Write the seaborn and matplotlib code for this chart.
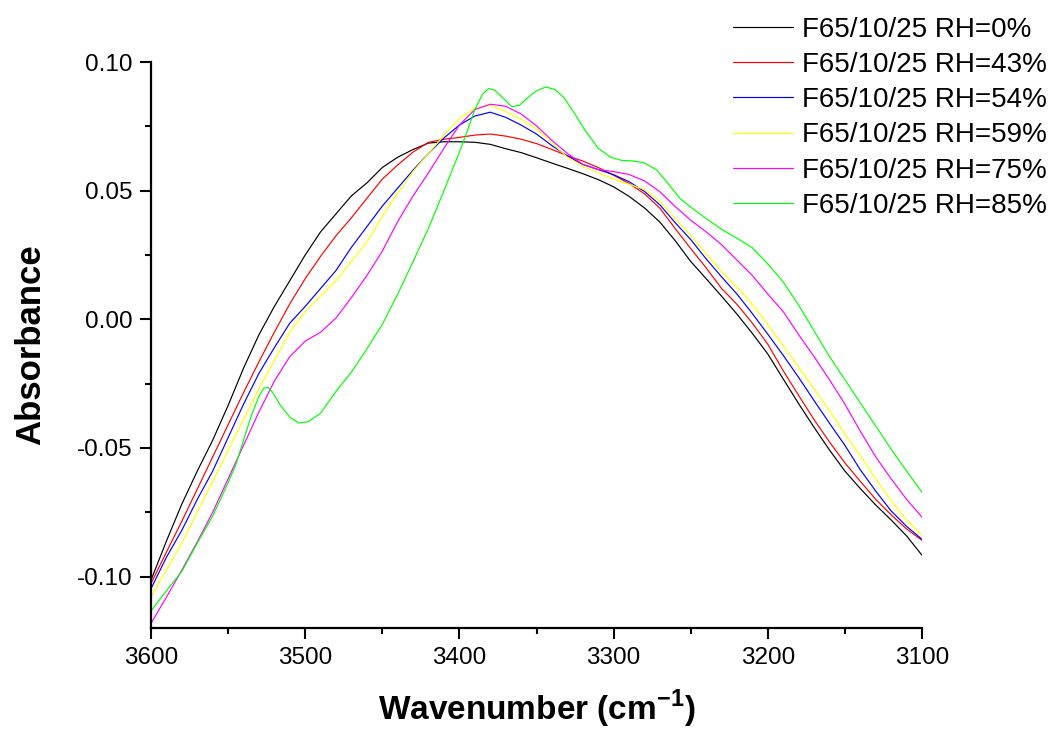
import pandas as pd
import matplotlib
matplotlib.use("Agg")
import matplotlib.pyplot as plt
from matplotlib.ticker import AutoMinorLocator, FormatStrFormatter
import seaborn as sns

# --- DATA ---
wavenumber = [3600, 3590, 3580, 3570, 3560, 3550, 3540, 3530, 3520, 3510,
              3500, 3490, 3480, 3470, 3460, 3450, 3440, 3430, 3420, 3410,
              3400, 3390, 3380, 3370, 3360, 3350, 3340, 3330, 3320, 3310,
              3300, 3290, 3280, 3270, 3260, 3250, 3240, 3230, 3220, 3210,
              3200, 3190, 3180, 3170, 3160, 3150, 3140, 3130, 3120, 3110, 3100]

rh_0 = [-0.1014, -0.0862, -0.0718, -0.0590, -0.0470, -0.0335, -0.0190, -0.0060, 0.0050, 0.0150,
        0.0250, 0.0340, 0.0410, 0.0480, 0.0530, 0.0590, 0.0630, 0.0660, 0.0685, 0.0690,
        0.0690, 0.0688, 0.0680, 0.0663, 0.0648, 0.0628, 0.0607, 0.0587, 0.0566, 0.0543,
        0.0515, 0.0478, 0.0433, 0.0378, 0.0305, 0.0225, 0.0158, 0.0090, 0.0020, -0.0055,
        -0.0135, -0.0232, -0.0328, -0.0420, -0.0508, -0.0590, -0.0658, -0.0722, -0.0780, -0.0842, -0.0917]

rh_43 = [-0.1027, -0.0905, -0.0785, -0.0660, -0.0535, -0.0410, -0.0285, -0.0165, -0.0050, 0.0060,
         0.0158, 0.0245, 0.0325, 0.0395, 0.0470, 0.0545, 0.0600, 0.0650, 0.0688, 0.0700,
         0.0707, 0.0716, 0.0720, 0.0712, 0.0700, 0.0683, 0.0660, 0.0636, 0.0615, 0.0590,
         0.0560, 0.0528, 0.0488, 0.0432, 0.0352, 0.0275, 0.0200, 0.0120, 0.0058, -0.0015,
         -0.0097, -0.0200, -0.0296, -0.0390, -0.0477, -0.0558, -0.0630, -0.0700, -0.0760, -0.0815, -0.0859]

rh_54 = [-0.1047, -0.0925, -0.0820, -0.0700, -0.0590, -0.0460, -0.0330, -0.0210, -0.0110, -0.0015,
         0.0050, 0.0120, 0.0190, 0.0280, 0.0360, 0.0440, 0.0510, 0.0580, 0.0645, 0.0705,
         0.0755, 0.0790, 0.0805, 0.0785, 0.0755, 0.0720, 0.0675, 0.0635, 0.0602, 0.0582,
         0.0562, 0.0535, 0.0497, 0.0445, 0.0375, 0.0310, 0.0235, 0.0165, 0.0098, 0.0022,
         -0.0058, -0.0140, -0.0226, -0.0316, -0.0404, -0.0490, -0.0585, -0.0668, -0.0745, -0.0805, -0.0855]

rh_59 = [-0.1079, -0.0975, -0.0870, -0.0750, -0.0630, -0.0510, -0.0390, -0.0270, -0.0160, -0.0050,
         0.0030, 0.0090, 0.0150, 0.0225, 0.0300, 0.0400, 0.0490, 0.0575, 0.0645, 0.0715,
         0.0780, 0.0820, 0.0832, 0.0808, 0.0778, 0.0740, 0.0685, 0.0630, 0.0595, 0.0570,
         0.0545, 0.0525, 0.0505, 0.0457, 0.0390, 0.0325, 0.0255, 0.0185, 0.0125, 0.0058,
         -0.0020, -0.0103, -0.0186, -0.0270, -0.0355, -0.0445, -0.0530, -0.0620, -0.0705, -0.0780, -0.0840]

rh_75 = [-0.1182, -0.1080, -0.0975, -0.0865, -0.0750, -0.0620, -0.0490, -0.0360, -0.0240, -0.0145,
         -0.0085, -0.0050, 0.0005, 0.0085, 0.0170, 0.0265, 0.0380, 0.0480, 0.0570, 0.0665,
         0.0755, 0.0815, 0.0836, 0.0828, 0.0798, 0.0752, 0.0695, 0.0645, 0.0602, 0.0582,
         0.0574, 0.0563, 0.0538, 0.0496, 0.0438, 0.0385, 0.0340, 0.0290, 0.0230, 0.0170,
         0.0098, 0.0030, -0.0060, -0.0145, -0.0235, -0.0330, -0.0435, -0.0535, -0.0620, -0.0700, -0.0769]

# RH=85% has sharp bands, so it is read at its own points
wavenumber_85 = [3600, 3590, 3580, 3570, 3560, 3550, 3545, 3540, 3535, 3530,
                 3527, 3524, 3521, 3516, 3510, 3504, 3498, 3490, 3480, 3470,
                 3460, 3450, 3440, 3430, 3420, 3410, 3400, 3395, 3390, 3385,
                 3381, 3377, 3372, 3366, 3361, 3356, 3350, 3344, 3338, 3332,
                 3326, 3318, 3310, 3302, 3295, 3287, 3280, 3272, 3265, 3257,
                 3250, 3240, 3230, 3220, 3210, 3200, 3190, 3180, 3170, 3160,
                 3150, 3140, 3130, 3120, 3110, 3100]
rh_85 = [-0.1134, -0.1055, -0.0980, -0.0870, -0.0765, -0.0635, -0.0565, -0.0470, -0.0375, -0.0300,
         -0.0268, -0.0265, -0.0285, -0.0335, -0.0380, -0.0403, -0.0398, -0.0365, -0.0280, -0.0205,
         -0.0115, -0.0020, 0.0098, 0.0225, 0.0355, 0.0500, 0.0650, 0.0730, 0.0815, 0.0875,
         0.0897, 0.0890, 0.0862, 0.0826, 0.0832, 0.0860, 0.0888, 0.0903, 0.0893, 0.0860,
         0.0806, 0.0730, 0.0665, 0.0630, 0.0618, 0.0615, 0.0608, 0.0580, 0.0530, 0.0470,
         0.0436, 0.0392, 0.0350, 0.0315, 0.0278, 0.0215, 0.0145, 0.0055, -0.0045, -0.0145,
         -0.0235, -0.0325, -0.0415, -0.0505, -0.0590, -0.0672]

labels = ["F65/10/25 RH=0%", "F65/10/25 RH=43%", "F65/10/25 RH=54%",
          "F65/10/25 RH=59%", "F65/10/25 RH=75%", "F65/10/25 RH=85%"]
colors = ["#000000", "#FF0000", "#0000FF", "#FFFF00", "#FF00FF", "#00FF00"]

# --- LONG TABLE FOR SEABORN ---
frames = []
for label, values in zip(labels[:5], [rh_0, rh_43, rh_54, rh_59, rh_75]):
    frames.append(pd.DataFrame({"Wavenumber": wavenumber, "Absorbance": values, "Sample": label}))
frames.append(pd.DataFrame({"Wavenumber": wavenumber_85, "Absorbance": rh_85, "Sample": labels[5]}))
df = pd.concat(frames, ignore_index=True)

# --- STYLE ---
sns.set_style("ticks")
plt.rcParams["font.family"] = ["Liberation Sans", "DejaVu Sans"]
plt.rcParams["axes.unicode_minus"] = False
plt.rcParams["mathtext.fontset"] = "custom"
plt.rcParams["mathtext.rm"] = "Liberation Sans"
plt.rcParams["mathtext.bf"] = "Liberation Sans:bold"
plt.rcParams["text.color"] = "black"
plt.rcParams["axes.labelcolor"] = "black"
plt.rcParams["axes.edgecolor"] = "black"
plt.rcParams["xtick.color"] = "black"
plt.rcParams["ytick.color"] = "black"

# --- PLOT ---
fig, ax = plt.subplots(figsize=(10.53, 7.33), dpi=100)
fig.subplots_adjust(left=0.1434, right=0.8756, bottom=0.1432, top=0.9154)

sns.lineplot(data=df, x="Wavenumber", y="Absorbance", hue="Sample", hue_order=labels,
             palette=colors, linewidth=0.85, estimator=None, sort=True, ax=ax)

ax.set_xlim(3600, 3100)
ax.set_ylim(-0.12, 0.10)
ax.set_xticks([3600, 3500, 3400, 3300, 3200, 3100])
ax.set_yticks([-0.10, -0.05, 0.00, 0.05, 0.10])
ax.yaxis.set_major_formatter(FormatStrFormatter("%.2f"))
ax.xaxis.set_minor_locator(AutoMinorLocator(2))
ax.yaxis.set_minor_locator(AutoMinorLocator(2))

sns.despine(ax=ax)
for side in ["left", "bottom"]:
    ax.spines[side].set_linewidth(1.6)
    ax.spines[side].set_color("black")
ax.tick_params(which="major", direction="out", length=8, width=1.5, labelsize=17.5)
ax.tick_params(which="minor", direction="out", length=4.5, width=1.5)
ax.tick_params(axis="y", which="major", pad=5)
ax.tick_params(axis="x", which="major", pad=6)

ax.set_xlabel(r"Wavenumber (cm$^{\mathbf{-1}}$)", fontsize=24, fontweight="bold", labelpad=13)
ax.set_ylabel("Absorbance", fontsize=25, fontweight="bold", labelpad=22)

handles, names = ax.get_legend_handles_labels()
ax.legend(handles, names, loc="upper left", bbox_to_anchor=(733 / 1053, 0.977),
          bbox_transform=fig.transFigure, frameon=False, fontsize=20,
          handlelength=2.15, handletextpad=0.35, labelspacing=0.33,
          borderpad=0, borderaxespad=0)

fig.savefig("out.png", dpi=100)
